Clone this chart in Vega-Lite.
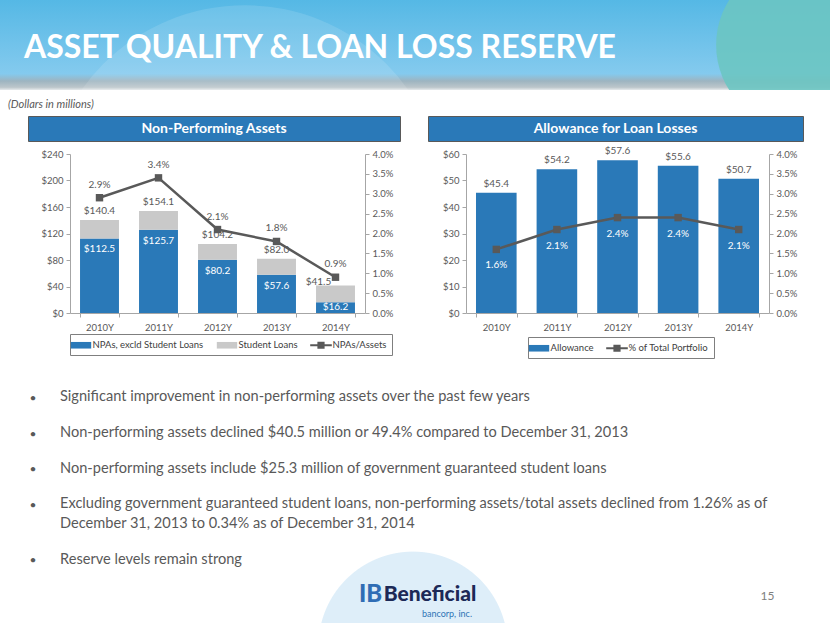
{
  "$schema": "https://vega.github.io/schema/vega-lite/v6.json",
  "padding": 0,
  "background": "white",
  "spacing": 5,
  "resolve": {"scale": {"color": "independent", "x": "independent", "y": "independent"}},
  "title": {
    "text": "ASSET QUALITY & LOAN LOSS RESERVE",
    "anchor": "start",
    "frame": "bounds",
    "orient": "top",
    "offset": 0,
    "dx": 24,
    "dy": 90,
    "baseline": "alphabetic",
    "fontSize": 32,
    "fontWeight": "bold",
    "font": "Lato",
    "color": "white"
  },
  "datasets": {
    "npa": [
      {"year": "2010Y", "NPAs, excld Student Loans": 112.5, "Student Loans": 27.9, "Total": 140.4, "NPAs/Assets": 0.029},
      {"year": "2011Y", "NPAs, excld Student Loans": 125.7, "Student Loans": 28.4, "Total": 154.1, "NPAs/Assets": 0.034},
      {"year": "2012Y", "NPAs, excld Student Loans": 80.2, "Student Loans": 24.0, "Total": 104.2, "NPAs/Assets": 0.021},
      {"year": "2013Y", "NPAs, excld Student Loans": 57.6, "Student Loans": 24.4, "Total": 82.0, "NPAs/Assets": 0.018},
      {"year": "2014Y", "NPAs, excld Student Loans": 16.2, "Student Loans": 25.3, "Total": 41.5, "NPAs/Assets": 0.009}
    ],
    "alll": [
      {"year": "2010Y", "Allowance": 45.4, "pct": 0.016},
      {"year": "2011Y", "Allowance": 54.2, "pct": 0.021},
      {"year": "2012Y", "Allowance": 57.6, "pct": 0.024},
      {"year": "2013Y", "Allowance": 55.6, "pct": 0.024},
      {"year": "2014Y", "Allowance": 50.7, "pct": 0.021}
    ],
    "bullets": [
      {"n": 1, "text": "Significant improvement in non-performing assets over the past few years"},
      {"n": 2, "text": "Non-performing assets declined $40.5 million or 49.4% compared to December 31, 2013"},
      {"n": 3, "text": "Non-performing assets include $25.3 million of government guaranteed student loans"},
      {"n": 4, "text": "Excluding government guaranteed student loans, non-performing assets/total assets declined from 1.26% as of\nDecember 31, 2013 to 0.34% as of December 31, 2014"},
      {"n": 5, "text": "Reserve levels remain strong"}
    ]
  },
  "config": {
    "view": {"stroke": null},
    "font": "Lato",
    "axis": {
      "domainColor": "#a6a6a6",
      "tickColor": "#a6a6a6",
      "labelColor": "#595959",
      "labelFontSize": 9.5,
      "labelFont": "Lato",
      "grid": false
    },
    "legend": {
      "labelFont": "Lato",
      "labelFontSize": 9.5,
      "labelColor": "#404040",
      "labelLimit": 300,
      "symbolStrokeWidth": 0,
      "strokeColor": "#7f7f7f",
      "padding": 5
    }
  },
  "vconcat": [
    {
      "width": 830,
      "height": 90,
      "view": {
        "stroke": null,
        "fill": {
          "gradient": "linear", "x1": 0, "y1": 0, "x2": 0, "y2": 1,
          "stops": [
            {"offset": 0, "color": "#55b8e5"},
            {"offset": 0.82, "color": "#84caee"},
            {"offset": 0.9, "color": "#9db4c0"},
            {"offset": 0.97, "color": "#bcc6cb"},
            {"offset": 1, "color": "#e6eaec"}
          ]
        }
      },
      "title": {
        "text": "(Dollars in millions)",
        "orient": "bottom",
        "anchor": "start",
        "frame": "group",
        "offset": 9,
        "dx": 8,
        "baseline": "top",
        "fontSize": 11,
        "fontStyle": "italic",
        "fontWeight": "normal",
        "font": "Lato",
        "color": "#595959"
      },
      "data": {"values": [{"circle": "glow"}]},
      "layer": [
        {
          "mark": {"type": "point", "shape": "circle", "filled": true, "size": 160000, "color": "white", "opacity": 0.12, "clip": true},
          "encoding": {
            "x": {"datum": 0.295, "type": "quantitative", "scale": {"domain": [0, 1]}, "axis": null},
            "y": {"datum": 2.28, "type": "quantitative", "scale": {"domain": [0, 1], "reverse": true}, "axis": null}
          }
        },
        {
          "mark": {"type": "point", "shape": "circle", "filled": true, "size": 28224, "color": "#6cc5c2", "opacity": 0.9, "clip": true},
          "encoding": {
            "x": {"datum": 0.964, "type": "quantitative", "scale": {"domain": [0, 1]}, "axis": null},
            "y": {"datum": 0.5, "type": "quantitative", "scale": {"domain": [0, 1], "reverse": true}, "axis": null}
          }
        }
      ]
    },
    {
      "spacing": 4,
      "resolve": {"scale": {"color": "independent", "x": "independent", "y": "independent"}},
      "vconcat": [
        {
          "spacing": 26,
          "resolve": {"scale": {"color": "independent", "x": "independent", "y": "independent"}},
          "hconcat": [
            {
              "width": 1,
              "height": 1,
              "view": {"fill": "white", "stroke": null},
              "data": {"values": [{"spacer": 1}]},
              "mark": {"type": "point", "filled": true, "size": 0, "strokeWidth": 0, "opacity": 0},
              "encoding": {}
            },
            {
              "width": 372,
              "height": 25,
              "view": {"fill": "#2a79b8", "stroke": "#595959", "strokeWidth": 1},
              "data": {"values": [{"label": "Non-Performing Assets"}]},
              "mark": {"type": "text", "color": "white", "fontWeight": "bold", "fontSize": 14, "font": "Lato"},
              "encoding": {"text": {"field": "label", "type": "nominal"}}
            },
            {
              "width": 375,
              "height": 25,
              "view": {"fill": "#2a79b8", "stroke": "#595959", "strokeWidth": 1},
              "data": {"values": [{"label": "Allowance for Loan Losses"}]},
              "mark": {"type": "text", "color": "white", "fontWeight": "bold", "fontSize": 14, "font": "Lato"},
              "encoding": {"text": {"field": "label", "type": "nominal"}}
            }
          ]
        },
        {
          "spacing": 26,
          "resolve": {"scale": {"color": "independent", "x": "independent", "y": "independent"}},
          "hconcat": [
            {
              "width": 1,
              "height": 1,
              "view": {"fill": "white", "stroke": null},
              "data": {"values": [{"spacer": 1}]},
              "mark": {"type": "point", "filled": true, "size": 0, "strokeWidth": 0, "opacity": 0},
              "encoding": {}
            },
            {
              "width": 295,
              "height": 159,
              "data": {"name": "npa"},
              "encoding": {
                "x": {
                  "field": "year", "type": "nominal", "title": null,
                  "scale": {"paddingInner": 0.34, "paddingOuter": 0.17},
                  "axis": {"labelAngle": 0, "tickBand": "extent", "tickSize": 4, "labelPadding": 5}
                }
              },
              "layer": [
                {
                  "transform": [{"fold": ["NPAs, excld Student Loans", "Student Loans"], "as": ["Series", "Amount"]}],
                  "mark": {"type": "bar"},
                  "encoding": {
                    "y": {
                      "field": "Amount", "type": "quantitative", "stack": "zero", "title": null,
                      "scale": {"domain": [0, 240], "nice": false},
                      "axis": {"orient": "left", "values": [0, 40, 80, 120, 160, 200, 240], "format": "$.0f", "tickSize": 4, "labelPadding": 3, "minExtent": 42.5}
                    },
                    "color": {
                      "field": "Series", "type": "nominal",
                      "scale": {"domain": ["NPAs, excld Student Loans", "Student Loans", "NPAs/Assets"], "range": ["#2a79b8", "#c9c9c9", "#595959"]},
                      "legend": {
                        "title": null, "orient": "none", "legendX": 0, "legendY": 180,
                        "direction": "horizontal", "columns": 3,
                        "symbolType": {"expr": "datum.value == 'NPAs/Assets' ? 'M-1.8,-0.18H1.8V0.18H-1.8Z M-0.6,-0.6H0.6V0.6H-0.6Z' : 'M-1.7,-0.55H1.7V0.55H-1.7Z'"},
                        "symbolSize": 144, "symbolOffset": 0, "labelOffset": 5.5, "columnPadding": 12
                      }
                    },
                    "order": {"field": "Series", "sort": "ascending"}
                  }
                },
                {
                  "mark": {"type": "text", "baseline": "middle", "color": "#595959", "fontSize": 10,
                    "dy": {"expr": "datum.year == '2014Y' ? -4 : -9"},
                    "dx": {"expr": "datum.year == '2014Y' ? -17 : 0"}},
                  "encoding": {
                    "y": {"field": "Total", "type": "quantitative", "scale": {"domain": [0, 240], "nice": false}, "axis": null},
                    "text": {"field": "Total", "type": "quantitative", "format": "$.1f"}
                  }
                },
                {
                  "mark": {"type": "text", "baseline": "middle", "color": "white", "fontSize": 10,
                    "dy": {"expr": "datum['NPAs, excld Student Loans'] < 20 ? 4.5 : 11"}},
                  "encoding": {
                    "y": {"field": "NPAs, excld Student Loans", "type": "quantitative", "scale": {"domain": [0, 240], "nice": false}, "axis": null},
                    "text": {"field": "NPAs, excld Student Loans", "type": "quantitative", "format": "$.1f"}
                  }
                },
                {
                  "mark": {"type": "line", "color": "#595959", "strokeWidth": 2.5},
                  "encoding": {
                    "y": {
                      "field": "NPAs/Assets", "type": "quantitative", "title": null,
                      "scale": {"domain": [0, 0.04], "nice": false},
                      "axis": {"orient": "right", "values": [0, 0.005, 0.01, 0.015, 0.02, 0.025, 0.03, 0.035, 0.04], "format": ".1%", "tickSize": 4, "labelPadding": 3, "minExtent": 36}
                    }
                  }
                },
                {
                  "mark": {"type": "point", "shape": "square", "filled": true, "size": 55, "color": "#595959", "opacity": 1},
                  "encoding": {"y": {"field": "NPAs/Assets", "type": "quantitative", "scale": {"domain": [0, 0.04], "nice": false}, "axis": null}}
                },
                {
                  "mark": {"type": "text", "baseline": "middle", "dy": -13, "color": "#595959", "fontSize": 10},
                  "encoding": {
                    "y": {"field": "NPAs/Assets", "type": "quantitative", "scale": {"domain": [0, 0.04], "nice": false}, "axis": null},
                    "text": {"field": "NPAs/Assets", "type": "quantitative", "format": ".1%"}
                  }
                }
              ],
              "resolve": {"scale": {"y": "independent"}}
            },
            {
              "width": 303,
              "height": 159,
              "data": {"name": "alll"},
              "encoding": {
                "x": {
                  "field": "year", "type": "nominal", "title": null,
                  "scale": {"paddingInner": 0.33, "paddingOuter": 0.165},
                  "axis": {"labelAngle": 0, "tickBand": "extent", "tickSize": 4, "labelPadding": 5}
                }
              },
              "layer": [
                {
                  "mark": {"type": "bar"},
                  "encoding": {
                    "y": {
                      "field": "Allowance", "type": "quantitative", "title": null,
                      "scale": {"domain": [0, 60], "nice": false},
                      "axis": {"orient": "left", "values": [0, 10, 20, 30, 40, 50, 60], "format": "$.0f", "tickSize": 4, "labelPadding": 3, "minExtent": 39}
                    },
                    "color": {
                      "datum": "Allowance", "type": "nominal",
                      "scale": {"domain": ["Allowance", "% of Total Portfolio"], "range": ["#2a79b8", "#595959"]},
                      "legend": {
                        "title": null, "orient": "none", "legendX": 62, "legendY": 183,
                        "direction": "horizontal", "columns": 2,
                        "symbolType": {"expr": "datum.value == '% of Total Portfolio' ? 'M-1.8,-0.18H1.8V0.18H-1.8Z M-0.6,-0.6H0.6V0.6H-0.6Z' : 'M-1.7,-0.55H1.7V0.55H-1.7Z'"},
                        "symbolSize": 144, "symbolOffset": 0, "labelOffset": 5.5, "columnPadding": 12
                      }
                    }
                  }
                },
                {
                  "mark": {"type": "text", "baseline": "middle", "dy": -9, "color": "#595959", "fontSize": 10},
                  "encoding": {
                    "y": {"field": "Allowance", "type": "quantitative", "scale": {"domain": [0, 60], "nice": false}, "axis": null},
                    "text": {"field": "Allowance", "type": "quantitative", "format": "$.1f"}
                  }
                },
                {
                  "mark": {"type": "line", "color": "#595959", "strokeWidth": 2.5},
                  "encoding": {
                    "y": {
                      "field": "pct", "type": "quantitative", "title": null,
                      "scale": {"domain": [0, 0.04], "nice": false},
                      "axis": {"orient": "right", "values": [0, 0.005, 0.01, 0.015, 0.02, 0.025, 0.03, 0.035, 0.04], "format": ".1%", "tickSize": 4, "labelPadding": 3}
                    }
                  }
                },
                {
                  "mark": {"type": "point", "shape": "square", "filled": true, "size": 55, "color": "#595959", "opacity": 1},
                  "encoding": {"y": {"field": "pct", "type": "quantitative", "scale": {"domain": [0, 0.04], "nice": false}, "axis": null}}
                },
                {
                  "mark": {"type": "text", "baseline": "middle", "dy": 16, "color": "white", "fontSize": 10},
                  "encoding": {
                    "y": {"field": "pct", "type": "quantitative", "scale": {"domain": [0, 0.04], "nice": false}, "axis": null},
                    "text": {"field": "pct", "type": "quantitative", "format": ".1%"}
                  }
                }
              ],
              "resolve": {"scale": {"y": "independent"}}
            }
          ]
        }
      ]
    },
    {
      "width": 830,
      "height": 174.8,
      "data": {"name": "bullets"},
      "transform": [{"filter": "datum.n <= 4"}],
      "encoding": {
        "y": {"field": "n", "type": "ordinal", "scale": {"type": "point", "padding": 0.955}, "axis": null}
      },
      "layer": [
        {
          "mark": {"type": "text", "text": "•", "fontSize": 12, "color": "#595959", "baseline": "middle"},
          "encoding": {"x": {"datum": 0.0398, "type": "quantitative", "scale": {"domain": [0, 1]}, "axis": null}}
        },
        {
          "mark": {"type": "text", "align": "left", "baseline": "top", "dy": -8.5, "fontSize": 14.6, "color": "#595959", "lineBreak": "\n", "lineHeight": 19.4},
          "encoding": {
            "x": {"datum": 0.0723, "type": "quantitative", "scale": {"domain": [0, 1]}, "axis": null},
            "text": {"field": "text", "type": "nominal"}
          }
        }
      ]
    },
    {
      "width": 830,
      "height": 80,
      "view": {
        "stroke": null,
        "fill": {
          "gradient": "radial", "x1": 0.4976, "y1": 0.5749, "r1": 0, "x2": 0.4976, "y2": 0.5749, "r2": 0.1145,
          "stops": [
            {"offset": 0, "color": "#deeef9"},
            {"offset": 0.99, "color": "#deeef9"},
            {"offset": 1, "color": "#ffffff"}
          ]
        }
      },
      "layer": [
        {
          "data": {"name": "bullets"},
          "transform": [{"filter": "datum.n == 5"}],
          "mark": {"type": "text", "text": "•", "fontSize": 12, "color": "#595959", "baseline": "middle"},
          "encoding": {
            "x": {"datum": 0.0398, "type": "quantitative", "scale": {"domain": [0, 1]}, "axis": null},
            "y": {"datum": 0.206, "type": "quantitative", "scale": {"domain": [0, 1], "reverse": true}, "axis": null}
          }
        },
        {
          "data": {"name": "bullets"},
          "transform": [{"filter": "datum.n == 5"}],
          "mark": {"type": "text", "align": "left", "baseline": "top", "dy": -8.5, "fontSize": 14.6, "color": "#595959"},
          "encoding": {
            "x": {"datum": 0.0723, "type": "quantitative", "scale": {"domain": [0, 1]}, "axis": null},
            "y": {"datum": 0.206, "type": "quantitative", "scale": {"domain": [0, 1], "reverse": true}, "axis": null},
            "text": {"field": "text", "type": "nominal"}
          }
        },
        {
          "data": {"values": [{"label": "IB"}]},
          "mark": {"type": "text", "align": "center", "baseline": "middle", "fontSize": 24, "fontWeight": 900, "color": "#2f6db5"},
          "encoding": {
            "x": {"datum": 0.4464, "type": "quantitative", "scale": {"domain": [0, 1]}, "axis": null},
            "y": {"datum": 0.64, "type": "quantitative", "scale": {"domain": [0, 1], "reverse": true}, "axis": null},
            "text": {"field": "label", "type": "nominal"}
          }
        },
        {
          "data": {"values": [{"label": "Beneficial"}]},
          "mark": {"type": "text", "align": "center", "baseline": "middle", "fontSize": 21, "fontWeight": 900, "color": "#1c2957"},
          "encoding": {
            "x": {"datum": 0.518, "type": "quantitative", "scale": {"domain": [0, 1]}, "axis": null},
            "y": {"datum": 0.64, "type": "quantitative", "scale": {"domain": [0, 1], "reverse": true}, "axis": null},
            "text": {"field": "label", "type": "nominal"}
          }
        },
        {
          "data": {"values": [{"label": "bancorp, inc."}]},
          "mark": {"type": "text", "align": "right", "baseline": "middle", "fontSize": 9, "color": "#2e74b5"},
          "encoding": {
            "x": {"datum": 0.5687, "type": "quantitative", "scale": {"domain": [0, 1]}, "axis": null},
            "y": {"datum": 0.874, "type": "quantitative", "scale": {"domain": [0, 1], "reverse": true}, "axis": null},
            "text": {"field": "label", "type": "nominal"}
          }
        },
        {
          "data": {"values": [{"page": "15"}]},
          "mark": {"type": "text", "align": "center", "baseline": "middle", "fontSize": 12, "color": "#7f7f7f"},
          "encoding": {
            "x": {"datum": 0.9247, "type": "quantitative", "scale": {"domain": [0, 1]}, "axis": null},
            "y": {"datum": 0.656, "type": "quantitative", "scale": {"domain": [0, 1], "reverse": true}, "axis": null},
            "text": {"field": "page", "type": "nominal"}
          }
        }
      ]
    }
  ]
}
